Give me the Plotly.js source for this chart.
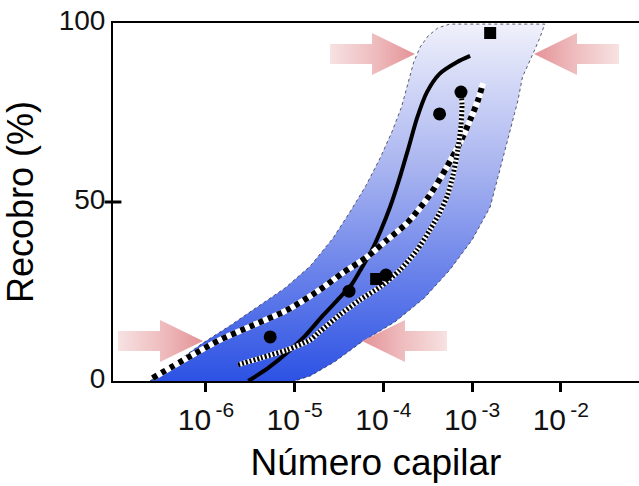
<!DOCTYPE html>
<html>
<head>
<meta charset="utf-8">
<script src="https://cdn.plot.ly/plotly-3.0.1.min.js"></script>
<style>html,body{margin:0;padding:0;background:#fff;}#chart{width:639px;height:486px;}</style>
</head>
<body>
<div id="chart"></div>
<script>
// ---- data (capillary number, recovery %) ----
// envelope of published results: upper-left edge (bottom -> top)
const bandLeftCap = [2.34e-7, 4.5e-7, 9.2e-7, 1.9e-6, 4.1e-6, 7.8e-6, 1.5e-5, 2.7e-5, 4.2e-5, 6.4e-5, 9.2e-5, 1.25e-4, 1.6e-4, 1.9e-4, 2.2e-4, 2.6e-4, 3.2e-4, 4.1e-4, 5.6e-4];
const bandLeftRec = [0, 5.0, 10.6, 15.6, 21.2, 26.0, 32.1, 39.9, 47.2, 54.7, 62.3, 69.6, 76.5, 83.5, 89.1, 93.3, 96.4, 98.6, 99.7];
// lower-right edge (top -> bottom)
const bandRightCap = [6.6e-3, 5.8e-3, 4.9e-3, 3.7e-3, 3.3e-3, 2.9e-3, 2.2e-3, 1.6e-3, 1.0e-3, 5.6e-4, 2.9e-4, 1.35e-4, 5.7e-5, 2.8e-5, 1.5e-5, 1.0e-5];
const bandRightRec = [99.7, 95.8, 91.6, 84.9, 78.5, 72.9, 61.7, 48.6, 39.4, 31.0, 23.2, 16.5, 10.9, 5.3, 1.4, 0];

// solid curve
const solidCap = [3.0e-6, 5.0e-6, 8.4e-6, 1.31e-5, 2.1e-5, 3.2e-5, 4.43e-5, 5.7e-5, 7.43e-5, 9.4e-5, 1.19e-4, 1.5e-4, 1.89e-4, 2.4e-4, 3.1e-4, 4.3e-4, 6.8e-4, 9.5e-4];
const solidRec = [0, 3.6, 8.1, 12.6, 18.4, 23.2, 27.1, 31.6, 36.6, 42.2, 48.6, 56.1, 64.5, 73.5, 80.7, 85.8, 89.1, 90.8];

// coarse dashed curve
const dashCap = [2.5e-7, 6.1e-7, 1.44e-6, 3.4e-6, 8.2e-6, 1.9e-5, 3.5e-5, 6.5e-5, 1.1e-4, 1.85e-4, 3.35e-4, 5.2e-4, 7.3e-4, 9.5e-4, 1.17e-3, 1.33e-3];
const dashRec = [0.8, 6.4, 11.5, 15.6, 19.8, 25.4, 30.2, 34.6, 39.4, 44.1, 52.0, 59.8, 66.5, 72.9, 78.5, 83.2];

// fine striped curve
const fineCap = [2.3e-6, 4.1e-6, 8.2e-6, 1.5e-5, 1.9e-5, 3.2e-5, 5.4e-5, 9.2e-5, 1.54e-4, 2.4e-4, 3.35e-4, 4.3e-4, 5.3e-4, 6.1e-4, 6.9e-4, 7.5e-4, 7.7e-4, 7.5e-4];
const fineRec = [4.5, 6.4, 8.7, 11.5, 13.7, 18.4, 22.6, 26.3, 31.0, 36.6, 42.2, 46.9, 52.0, 57.5, 64.5, 71.5, 77.1, 80.7];

// measured points
const circleCap = [5.3e-6, 4.1e-5, 1.07e-4, 4.3e-4, 7.5e-4];
const circleRec = [12.3, 25.1, 29.6, 74.6, 80.7];
const squareCap = [8.3e-5, 1.6e-3];
const squareRec = [28.5, 97.2];

// axis ticks
const xTickVals = [1e-6, 1e-5, 1e-4, 1e-3, 1e-2];
const xTickText = ['10<sup>\u2009-6</sup>', '10<sup>\u2009-5</sup>', '10<sup>\u2009-4</sup>', '10<sup>\u2009-3</sup>', '10<sup>\u2009-2</sup>'];
const yTickVals = [0, 50, 100];
const yTickText = ['0', '50', '100'];

// ---- build ----
const FONT = 'Liberation Sans, Arial, Helvetica, sans-serif';
const traces = [];

traces.push({
  x: bandLeftCap.concat(bandRightCap), y: bandLeftRec.concat(bandRightRec),
  type: 'scatter', mode: 'lines', fill: 'toself',
  fillgradient: {type: 'vertical', start: 0, stop: 100,
    colorscale: [[0, 'rgb(45,82,228)'], [0.3, 'rgb(105,130,234)'], [0.6, 'rgb(170,181,240)'], [1, 'rgb(240,241,251)']]},
  line: {color: 'rgba(40,40,60,0.75)', width: 1, dash: 'dot'},
  hoverinfo: 'skip', showlegend: false
});

traces.push({x: solidCap, y: solidRec, type: 'scatter', mode: 'lines',
  line: {color: '#000', width: 4, shape: 'spline', smoothing: 0.7}, showlegend: false});

traces.push({x: dashCap, y: dashRec, type: 'scatter', mode: 'lines',
  line: {color: '#fff', width: 6, shape: 'spline', smoothing: 0.7}, showlegend: false});
traces.push({x: dashCap, y: dashRec, type: 'scatter', mode: 'lines',
  line: {color: '#000', width: 6, dash: '5px,5px', shape: 'spline', smoothing: 0.7}, showlegend: false});

traces.push({x: fineCap, y: fineRec, type: 'scatter', mode: 'lines',
  line: {color: '#fff', width: 5, shape: 'spline', smoothing: 0.7}, showlegend: false});
traces.push({x: fineCap, y: fineRec, type: 'scatter', mode: 'lines',
  line: {color: '#000', width: 5, dash: '2px,2px', shape: 'spline', smoothing: 0.7}, showlegend: false});

traces.push({x: circleCap, y: circleRec, type: 'scatter', mode: 'markers',
  marker: {symbol: 'circle', size: 13, color: '#000'}, showlegend: false});
traces.push({x: squareCap, y: squareRec, type: 'scatter', mode: 'markers',
  marker: {symbol: 'square', size: 12, color: '#000'}, showlegend: false});

// decorative arrows on an overlay pixel-like axis
function arrow(tipX, cy, dir) {
  const L = 85, HL = 43, SH = 10, HH = 21;
  const tail = tipX - dir * L, base = tipX - dir * HL;
  const xs = [tail, base, base, tipX, base, base, tail, tail];
  const ys = [cy - SH, cy - SH, cy - HH, cy, cy + HH, cy + SH, cy + SH, cy - SH];
  const cs = dir > 0
    ? [[0, 'rgb(247,226,226)'], [0.55, 'rgb(238,186,188)'], [1, 'rgb(228,146,151)']]
    : [[0, 'rgb(228,146,151)'], [0.45, 'rgb(238,186,188)'], [1, 'rgb(247,226,226)']];
  return {x: xs, y: ys, xaxis: 'x2', yaxis: 'y2', type: 'scatter', mode: 'lines',
    fill: 'toself', line: {width: 0, color: 'rgba(0,0,0,0)'},
    fillgradient: {type: 'horizontal', start: Math.min(tail, tipX), stop: Math.max(tail, tipX), colorscale: cs},
    hoverinfo: 'skip', showlegend: false};
}
traces.push(arrow(415, 54, 1));
traces.push(arrow(534, 54, -1));
traces.push(arrow(203, 341, 1));
traces.push(arrow(362, 341, -1));

const layout = {
  width: 639, height: 486,
  margin: {l: 113, r: 0, t: 23, b: 105, pad: 0},
  paper_bgcolor: '#fff', plot_bgcolor: '#fff',
  font: {family: FONT, color: '#000', size: 28},
  showlegend: false,
  xaxis: {
    type: 'log', range: [-7.048, -1.118], showgrid: false, zeroline: false,
    showline: true, linecolor: '#000', linewidth: 2, mirror: true,
    tickvals: xTickVals, ticktext: xTickText, ticks: 'outside', ticklen: 9, tickwidth: 3, tickcolor: '#000',
    ticklabelstandoff: 2,
    tickfont: {family: FONT, size: 30, color: '#111'},
    title: {text: 'Número capilar', font: {family: FONT, size: 37, color: '#000'}, standoff: 14}
  },
  yaxis: {
    range: [0, 100], showgrid: false, zeroline: false,
    showline: true, linecolor: '#000', linewidth: 2,
    tickvals: yTickVals, ticktext: yTickText, ticks: '', ticklen: 0,
    ticklabelshift: -3,
    tickfont: {family: FONT, size: 28, color: '#111'},
    title: {text: 'Recobro (%)', font: {family: FONT, size: 36, color: '#000'}, standoff: 14}
  },
  xaxis2: {overlaying: 'x', range: [113, 639], visible: false, anchor: 'y2'},
  yaxis2: {overlaying: 'y', range: [381, 23], visible: false, anchor: 'x2'},
  shapes: [
    {type: 'line', xref: 'paper', yref: 'y', x0: -0.016, x1: 0.016, y0: 50, y1: 50, line: {color: '#000', width: 3}}
  ]
};

Plotly.newPlot('chart', traces, layout, {staticPlot: true, displayModeBar: false});
</script>
</body>
</html>
